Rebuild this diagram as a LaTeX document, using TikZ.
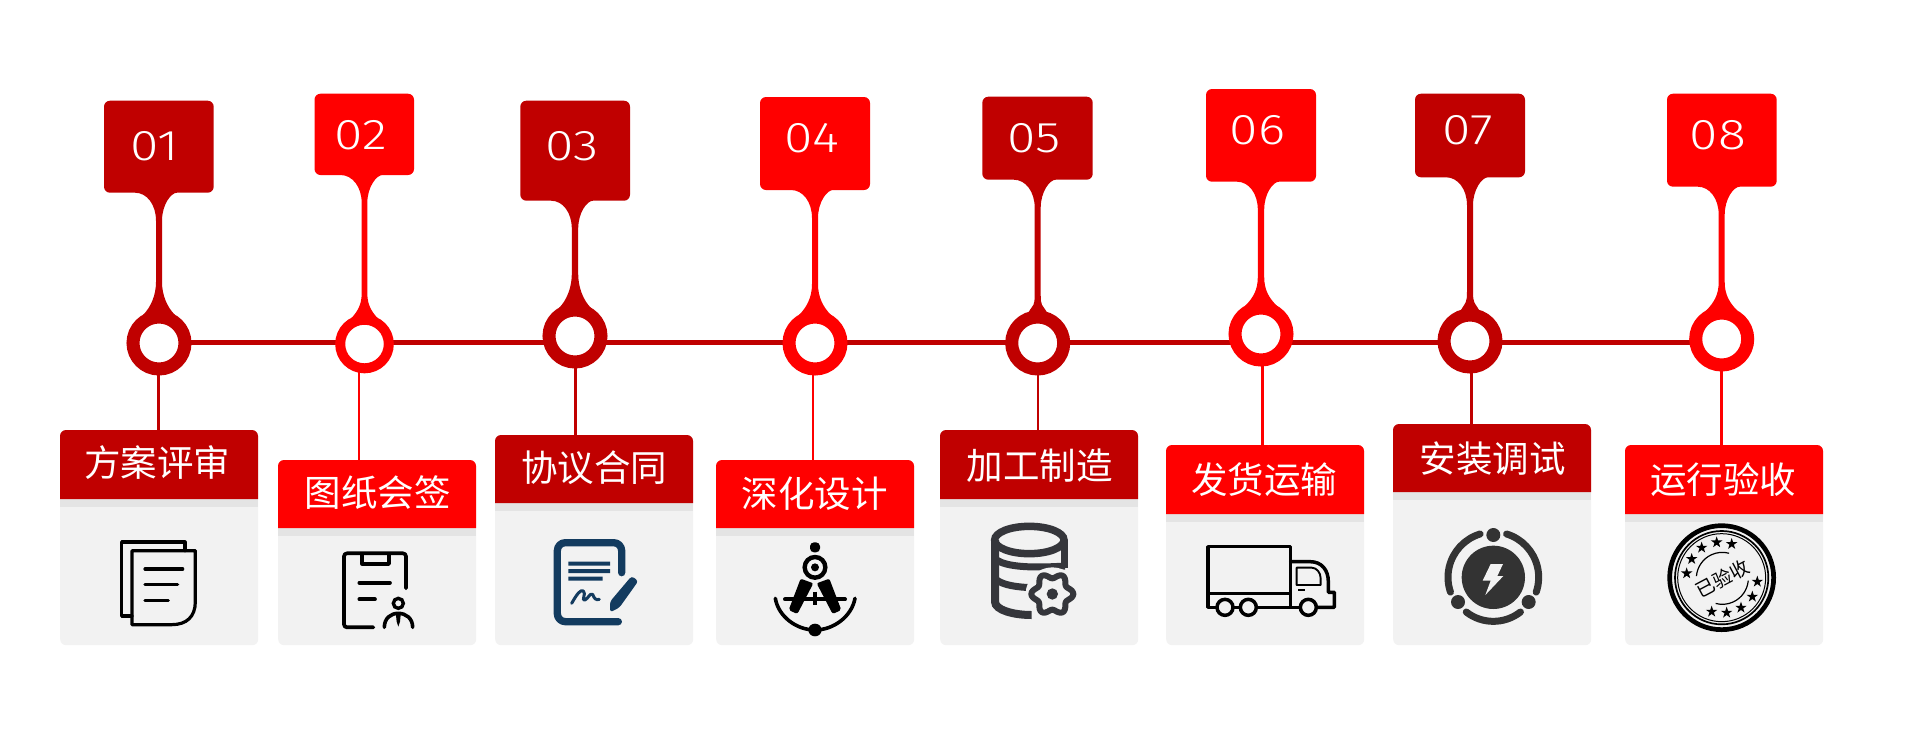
\documentclass[tikz,border=0pt]{standalone}
\usepackage{fontspec}
\newfontfamily\cjk{Noto Sans CJK SC}
\newfontfamily\numf[FakeStretch=1.2]{Fira Sans Light}
\definecolor{dkred}{HTML}{C00000}
\definecolor{brred}{HTML}{FF0000}
\definecolor{cardbg}{HTML}{F2F2F2}
\definecolor{stripe}{HTML}{E4E4E4}
\definecolor{navy}{HTML}{133B5F}
\definecolor{slate}{HTML}{35363B}
\definecolor{coal}{HTML}{333333}
\tikzset{
  cardbody/.style={fill=cardbg,rounded corners=6pt,inner sep=0pt,minimum width=198pt,anchor=north west},
  hdrlabel/.style={text=white,font=\cjk\fontsize{36.5}{36.5}\selectfont,inner sep=0pt},
  numlabel/.style={text=white,font=\numf\fontsize{43}{43}\selectfont,inner sep=0pt},
  zoomed/.style={x=0.33333pt,y=-0.33333pt},
  ic/.style={line cap=round,line join=round},
}
\newcommand{\stampstar}[2]{\fill[black,shift={(#1,#2)}] (-90:18) -- (-126:7) -- (-162:18) -- (-198:7) -- (-234:18) -- (-270:7) -- (-306:18) -- (-342:7) -- (-18:18) -- (-54:7) -- cycle;}
\begin{document}
\begin{tikzpicture}[x=1pt,y=-1pt]
\useasboundingbox (0,0) rectangle (1909,745);
\fill[white] (0,0) rectangle (1909,745);

% cards
\foreach \id/\xa/\ya/\yh/\col/\txt/\tx/\ty in {
 1/60/430/499/dkred/方案评审/157/463,
 2/278/460/528/brred/图纸会签/377.5/492.7,
 3/495/435/503/dkred/协议合同/594/468,
 4/716/460/528/brred/深化设计/814.5/494,
 5/940/430/499/dkred/加工制造/1039.7/466,
 6/1166/445/514/brred/发货运输/1264/480,
 7/1393/424/492/dkred/安装调试/1492.5/459,
 8/1625/445/514/brred/运行验收/1723/480}{
  \pgfmathsetmacro{\hh}{645-\ya}
  \node[cardbody,minimum height=\hh pt] (card\id) at (\xa,\ya) {};
  \fill[stripe] (\xa,\yh) rectangle (\xa+198,\yh+8);
  \fill[\col] (\xa,\yh) -- (\xa,\ya+20) [rounded corners=6pt] -- (\xa,\ya) -- (\xa+198,\ya) -- (\xa+198,\ya+20) [sharp corners] -- (\xa+198,\yh) -- cycle;
  \node[hdrlabel] (hdr\id) at (\tx,\ty) {\txt};
}

% axis coordinates and main line
\foreach \id/\cx in {1/159,2/364.5,3/575,4/815,5/1037.7,6/1261,7/1470,8/1721.7}{
  \coordinate (ax\id) at (\cx,342.5);
}
\draw[dkred,line width=5pt] (ax1) -- (ax2) -- (ax3) -- (ax4) -- (ax5) -- (ax6) -- (ax7) -- (ax8);

% pins
\foreach \id/\xa/\xb/\ya/\yb/\cx/\cy/\dm/\th/\w/\fs/\jx/\jy/\col/\lx/\lw/\nx/\ny/\num in {
 1/104/213.7/100.7/192.7/159/343/52/13/3/61/16/28/dkred/158.5/3/155/145.7/01,
 2/314.5/414/93.7/175/364.5/344/48.6/10/2.8/50.6/17/22/brred/359/2/360.5/135/02,
 3/520.3/630/100.7/200.7/575/336/52/13/3.2/62/16/28/dkred/575.5/3/572/145.7/03,
 4/760/870/97/190/815/343/52/13/3/59/16/28/brred/813/2/811.7/138.3/04,
 5/982.3/1092.7/96.7/179.7/1037.7/343/52/13/3/49/9/31/dkred/1038/2/1033.8/138.3/05,
 6/1206/1316/89/181.7/1261/334/52/13/3.2/57/16/28/brred/1262.3/3/1257.5/130/06,
 7/1415/1525/93.7/177.3/1470/341/52/13/3/50/9/31/dkred/1471.5/3/1467.8/130/07,
 8/1667/1776.7/93.7/186.7/1721.7/339/52/13/3/57/16/28/brred/1721.7/3/1718/135/08}{
  \coordinate (lo\id) at (\lx,\cy);
  \draw[\col,line width=\lw pt] (lo\id) -- (lo\id |- card\id.north);
  \fill[\col] (\cx-24,\yb) [rounded corners=6pt] -- (\xa,\yb) -- (\xa,\ya) -- (\xb,\ya) -- (\xb,\yb) -- (\cx+24,\yb) [sharp corners]
    .. controls (\cx+12,\yb) and (\cx+\w,\yb+12) .. (\cx+\w,\yb+28)
    -- (\cx+\w,\cy-\fs)
    .. controls (\cx+\w,\cy-\fs+13) and (\cx+\jx*0.5,\cy-\jy-8) .. (\cx+\jx,\cy-\jy)
    -- (\cx-\jx,\cy-\jy)
    .. controls (\cx-\jx*0.5,\cy-\jy-8) and (\cx-\w,\cy-\fs+13) .. (\cx-\w,\cy-\fs)
    -- (\cx-\w,\yb+28)
    .. controls (\cx-\w,\yb+12) and (\cx-12,\yb) .. (\cx-24,\yb) -- cycle;
  \node[circle,draw=\col,line width=\th pt,fill=white,minimum size=\dm pt,inner sep=0pt] (ring\id) at (\cx,\cy) {};
  \node[numlabel] (num\id) at (\nx,\ny) {\num};
}

% icon 1
\begin{scope}[shift={(40,420)},zoomed]
 \draw[ic,black,line width=3.2pt] (435,392) -- (435,366) -- (245,366) -- (245,588) -- (276,588);
 \draw[ic,black,line width=3.2pt] (276,392) -- (466,392) -- (466,545) .. controls (466,590) and (440,614) .. (395,614) -- (276,614) -- cycle;
 \draw[ic,black,line width=3.2pt] (315,447) -- (428,447) (315,494) -- (413,494) (315,542) -- (385,542);
% icon 2
 \draw[ic,black,line width=3.7pt,rounded corners=3pt] (1098,505) -- (1098,400) -- (912,400) -- (912,622) -- (1000,622);
 \draw[ic,black,line width=3.7pt] (967,402) -- (967,432) -- (1047,432) -- (1047,402);
 \draw[ic,black,line width=3.7pt] (958,488) -- (1050,488) (958,538) -- (1005,538);
 \draw[black,line width=3.4pt] (1075,550) circle (15);
 \draw[ic,black,line width=3.6pt] (1033,622) .. controls (1033,595) and (1052,580) .. (1075,580) .. controls (1098,580) and (1118,595) .. (1118,622);
 \fill[black] (1068,585) -- (1082,585) -- (1080,605) -- (1075,620) -- (1070,605) -- cycle;
\end{scope}

% icons 3, 4
\begin{scope}[shift={(490,420)},zoomed]
 \draw[ic,navy,line width=7.3pt,rounded corners=8pt] (395,458) -- (395,368) -- (202,368) -- (202,605) -- (385,605);
 \fill[navy] (235,425) rectangle (360,437) (235,447) rectangle (360,459) (235,470) rectangle (338,482);
 \draw[ic,navy,line width=3pt] (245,550) .. controls (262,520) and (272,508) .. (280,513) .. controls (290,520) and (272,545) .. (285,540) .. controls (295,535) and (300,518) .. (308,523) .. controls (312,535) and (318,542) .. (328,538);
 \fill[navy,rounded corners=3pt] (425,468) -- (445,483) -- (388,563) -- (360,577) -- (360,545) -- cycle;
 % compass
 \fill[black,rounded corners=4pt] (960,397) -- (960,367) -- (990,367) -- (990,397) -- cycle;
 \draw[black,line width=4.4pt] (975,442) circle (31);
 \fill[black] (975,442) circle (12);
 \fill[black,rounded corners=2pt] (932,476) -- (970,490) -- (922,582) -- (896,570) -- cycle;
 \fill[black,rounded corners=2pt] (1018,476) -- (980,490) -- (1028,582) -- (1054,570) -- cycle;
 \draw[black,line width=4pt,line cap=round] (885,538) -- (1065,538);
 \draw[black,line width=3.6pt] (975,515) -- (975,555);
 \draw[ic,black,line width=3.6pt] (856,535) .. controls (865,590) and (920,630) .. (975,630) .. controls (1030,630) and (1085,590) .. (1095,535);
 \fill[black] (975,630) ellipse (20 and 19);
\end{scope}

% icons 5, 6
\begin{scope}[shift={(930,420)},zoomed]
 \draw[slate,line width=7.5pt] (298,360) ellipse (104 and 41);
 \draw[slate,line width=8pt] (195,360) -- (195,545) .. controls (195,570) and (250,585) .. (305,585);
 \draw[slate,line width=7.5pt] (403,360) -- (403,445);
 \draw[slate,line width=7pt] (200,420) .. controls (230,440) and (300,445) .. (405,438);
 \draw[slate,line width=7pt] (200,480) .. controls (220,495) and (260,502) .. (310,503);
 \fill[cardbg] (367,522) circle (80);
 \draw[slate,line width=6pt,line join=round,fill=cardbg] plot[domain=0:360,samples=73,smooth] ({367+(55+8*cos(6*\x))*cos(\x)},{522+(55+8*cos(6*\x))*sin(\x)}) -- cycle;
 \fill[slate] (367,522) circle (17);
 % truck
 \draw[ic,black,line width=3.5pt] (1082,560) -- (1082,380) -- (834,380) -- (834,562) -- (860,562);
 \draw[black,line width=3.5pt] (834,520) -- (1082,520);
 \draw[black,line width=3.5pt] (908,562) -- (932,562) (980,562) -- (1110,562);
 \draw[ic,black,line width=3.5pt] (1082,425) -- (1140,425) .. controls (1175,425) and (1195,450) .. (1195,485) -- (1195,517) -- (1213,517) -- (1213,562) -- (1160,562);
 \draw[black,line width=1.9pt,line join=round] (1100,443) -- (1145,443) .. controls (1160,443) and (1172,458) .. (1172,475) -- (1172,495) -- (1100,495) -- cycle;
 \draw[black,line width=1.9pt] (1105,511) -- (1125,511);
 \foreach \wx in {885,955,1135}{\draw[black,line width=3.5pt,fill=cardbg] (\wx,562) circle (24);}
\end{scope}

% icons 7, 8
\begin{scope}[shift={(1380,420)},zoomed]
 \fill[coal] (340,472) circle (95);
 \fill[cardbg] (332,432) -- (369,432) -- (352,468) -- (370,468) -- (316,525) -- (332,482) -- (308,482) -- cycle;
 \fill[coal] (340,345) circle (21) (234,546) circle (21) (446,546) circle (21);
 \draw[ic,coal,line width=7pt] (340,472) ++(-107:136) arc[start angle=-107,end angle=-199,radius=136];
 \draw[ic,coal,line width=7pt] (340,472) ++(-73:136) arc[start angle=-73,end angle=19,radius=136];
 \draw[ic,coal,line width=7pt] (340,472) ++(128:132) arc[start angle=128,end angle=52,radius=132];
 % stamp
 \draw[black,line width=4.7pt] (1025,473) circle (156);
 \draw[black,line width=1.7pt] (1025,473) circle (140);
 \draw[black,line width=1pt] (1025,473) circle (132);
 \draw[black,line width=1.2pt] (1027,475) ++(-175:78) arc[start angle=-175,end angle=-75,radius=78];
 \draw[black,line width=1.2pt] (1027,475) ++(5:78) arc[start angle=5,end angle=105,radius=78];
 \foreach \sx/\sy in {920/460,935/417,965/383,1010/367,1055/372,1132/485,1117/530,1083/563,1040/578,995/575}{\stampstar{\sx}{\sy}}
 \node[rotate=28,text=black,inner sep=0pt,font=\cjk\fontsize{19}{19}\selectfont] (stamptext) at (1027,475) {已验收};
\end{scope}
\end{tikzpicture}
\end{document}
